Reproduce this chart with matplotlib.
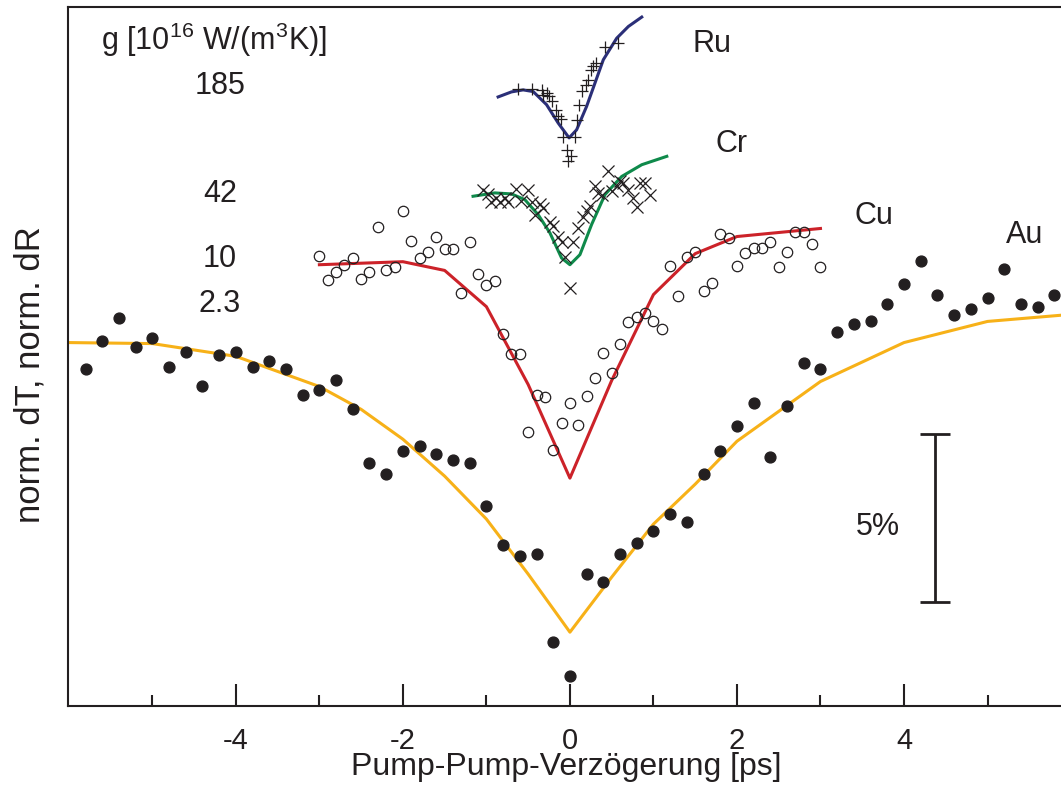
import numpy as np
import matplotlib
matplotlib.use("Agg")
import matplotlib.pyplot as plt

plt.rcParams['font.family'] = ['Liberation Sans', 'DejaVu Sans']
plt.rcParams['mathtext.default'] = 'regular'
plt.rcParams['axes.unicode_minus'] = False

ink = '#231f20'

# Au: gefüllte Punkte + Fit (Signal in %)
au_t = np.round(np.arange(-5.8, 5.81, 0.2), 1)
au_y = [10.03, 10.87, 11.57, 10.71, 10.97, 10.11, 10.54, 9.53, 10.47, 10.54,
        10.11, 10.29, 10.05, 9.28, 9.43, 9.71, 8.84, 7.24, 6.90, 7.59,
        7.75, 7.50, 7.33, 7.25, 5.96, 4.79, 4.46, 4.54, 1.90, 0.88,
        3.94, 3.70, 4.54, 4.87, 5.21, 5.71, 5.47, 6.90, 7.60, 8.34,
        9.03, 7.41, 8.94, 10.21, 10.03, 11.14, 11.39, 11.48, 11.99, 12.58,
        13.26, 12.24, 11.64, 11.82, 12.15, 13.01, 11.99, 11.90, 12.24]
au_fit_t = [-6.0, -5.0, -4.0, -3.0, -2.5, -2.0, -1.5, -1.0, -0.5, 0.0,
            0.5, 1.0, 1.5, 2.0, 3.0, 4.0, 5.0, 6.0]
au_fit_y = [10.83, 10.80, 10.42, 9.52, 8.84, 7.95, 6.85, 5.57, 3.93, 2.20,
            3.84, 5.42, 6.61, 7.89, 9.67, 10.83, 11.46, 11.67]

# Cu: offene Kreise + Fit
cu_t = np.round(np.arange(-3.0, 3.01, 0.1), 1)
cu_y = [13.42, 12.69, 12.93, 13.13, 13.36, 12.73, 12.93, 14.28, 12.99, 13.07,
        14.75, 13.87, 13.36, 13.54, 13.98, 13.63, 13.63, 12.32, 13.82, 12.88,
        12.56, 12.65, 11.10, 10.49, 10.49, 8.16, 9.26, 9.22, 7.63, 8.42,
        9.02, 8.36, 9.24, 9.76, 10.51, 9.92, 10.78, 11.45, 11.60, 11.71,
        11.47, 11.23, 13.10, 12.22, 13.37, 13.53, 12.36, 12.61, 14.07, 13.95,
        13.10, 13.50, 13.65, 13.65, 13.83, 13.07, 13.53, 14.12, 14.12, 13.77,
        13.07]
cu_fit_t = [-3.0, -2.0, -1.5, -1.0, -0.5, 0.0, 0.5, 1.0, 1.5, 2.0, 3.0]
cu_fit_y = [13.15, 13.24, 12.98, 11.90, 9.58, 6.79, 9.70, 12.26, 13.48, 13.99, 14.23]

# Cr: Kreuze + Fit
cr_t = [-1.04, -0.98, -0.94, -0.88, -0.84, -0.78, -0.74, -0.64, -0.58, -0.50,
        -0.46, -0.42, -0.36, -0.32, -0.24, -0.20, -0.14, -0.10, -0.06, 0.00,
        0.04, 0.10, 0.16, 0.20, 0.24, 0.30, 0.34, 0.38, 0.45, 0.50,
        0.56, 0.60, 0.64, 0.70, 0.76, 0.80, 0.84, 0.90, 0.96]
cr_y = [15.39, 15.27, 15.03, 15.15, 15.03, 15.15, 15.03, 15.42, 15.06, 15.39,
        15.03, 14.64, 14.97, 14.85, 14.43, 14.29, 13.99, 13.84, 13.39, 12.47,
        13.84, 14.23, 14.58, 14.76, 14.91, 15.51, 15.30, 15.24, 15.95, 15.36,
        15.51, 15.65, 15.60, 15.39, 15.15, 14.88, 15.60, 15.60, 15.24]
cr_fit_t = [-1.16, -0.90, -0.70, -0.54, -0.38, -0.24, -0.10, 0.00, 0.12, 0.26,
            0.42, 0.62, 0.86, 1.16]
cr_fit_y = [15.19, 15.29, 15.26, 15.09, 14.64, 14.10, 13.35, 13.15, 13.45, 14.35,
            15.24, 15.78, 16.13, 16.38]

# Ru: Pluszeichen + Fit
ru_t = [-0.62, -0.46, -0.34, -0.32, -0.28, -0.25, -0.21, -0.17, -0.14, -0.11,
        -0.08, -0.03, -0.02, 0.01, 0.06, 0.09, 0.11, 0.15, 0.19, 0.22,
        0.25, 0.28, 0.31, 0.42, 0.58]
ru_y = [18.38, 18.38, 18.36, 18.21, 18.26, 18.18, 18.04, 17.75, 17.59, 17.49,
        16.96, 16.58, 16.23, 16.40, 16.97, 17.47, 17.92, 18.34, 18.51, 18.64,
        18.96, 19.06, 19.16, 19.63, 19.75]
ru_fit_t = [-0.86, -0.70, -0.56, -0.44, -0.28, -0.14, -0.01, 0.08, 0.20, 0.40,
            0.56, 0.70, 0.86]
ru_fit_y = [18.15, 18.30, 18.36, 18.31, 17.92, 17.37, 16.93, 17.17, 17.87, 19.26,
            19.90, 20.25, 20.53]

# Beschriftungen
metals = ['Ru', 'Cr', 'Cu', 'Au']
g_values = ['185', '42', '10', '2.3']
major_ticks = [-4, -2, 0, 2, 4]
minor_ticks = [-5, -3, -1, 1, 3, 5]

fig = plt.figure(figsize=(10.61, 7.87), dpi=100)
ax = fig.add_axes([68/1061, 81/787, 993/1061, 699/787])

ax.plot(au_fit_t, au_fit_y, color='#f7b118', lw=2.2, zorder=2)
ax.plot(au_t, au_y, 'o', ms=7.8, color=ink, mec=ink, zorder=3)

ax.plot(cu_fit_t, cu_fit_y, color='#cc2229', lw=2.2, zorder=2)
ax.plot(cu_t, cu_y, 'o', ms=7.5, mfc='none', mec=ink, mew=0.9, zorder=3)

ax.plot(cr_fit_t, cr_fit_y, color='#0f8a4b', lw=2.2, zorder=2)
ax.plot(cr_t, cr_y, 'x', ms=8, color=ink, mew=0.9, zorder=3)

ax.plot(ru_fit_t, ru_fit_y, color='#2b2f78', lw=2.2, zorder=2)
ax.plot(ru_t, ru_y, '+', ms=9, color=ink, mew=0.9, zorder=3)

# 5%-Skalenbalken
ax.errorbar([4.37], [5.6], yerr=[2.5], fmt='none', ecolor=ink,
            elinewidth=2.0, capsize=11, capthick=2.0)
ax.text(3.69, 5.32, '5%', fontsize=22, color=ink, ha='center', va='center')

ax.set_xlim(-6.01, 5.88)
ax.set_ylim(0, 20.83)
ax.set_xticks(major_ticks)
ax.set_xticklabels([str(t) for t in major_ticks])
ax.set_xticks(minor_ticks, minor=True)
ax.tick_params(axis='x', which='major', direction='in', length=16, width=1.5,
               colors=ink, labelsize=21, pad=15)
ax.tick_params(axis='x', which='minor', direction='in', length=8, width=1.5,
               colors=ink)
ax.set_yticks([])
ax.spines['right'].set_visible(False)
for s in ['left', 'bottom', 'top']:
    ax.spines[s].set_linewidth(1.5)
    ax.spines[s].set_color(ink)

label_pos = [(1.70, 19.72), (1.94, 16.76), (3.64, 14.61), (5.44, 14.05)]
for name, (lx, ly) in zip(metals, label_pos):
    ax.text(lx, ly, name, fontsize=22, color=ink, ha='center', va='center')

fig.text(101/1061, 1 - 40/787, 'g [10$^{16}$ W/(m$^{3}$K)]', fontsize=22,
         color=ink, ha='left', va='center')
for val, py in zip(g_values, [86, 194, 259, 304]):
    fig.text(220/1061, 1 - py/787, val, fontsize=22, color=ink,
             ha='center', va='center')

fig.text(30/1061, 1 - 375/787, 'norm. dT, norm. dR', fontsize=25, color=ink,
         rotation=90, ha='center', va='center')
fig.text(566/1061, 1 - 767/787, 'Pump-Pump-Verzögerung [ps]', fontsize=23,
         color=ink, ha='center', va='center')

fig.savefig('out.png', dpi=100)
